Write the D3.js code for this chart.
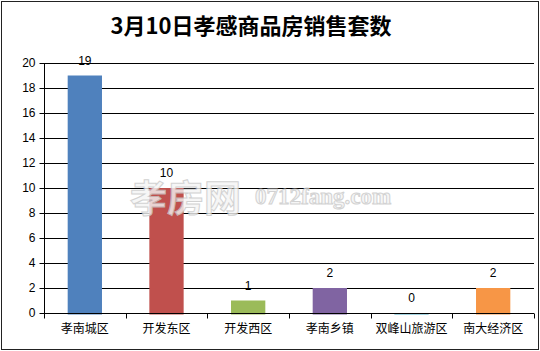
<!DOCTYPE html>
<html>
<head>
<meta charset="utf-8">
<script src="https://cdn.jsdelivr.net/npm/d3@7"></script>
<style>
  body { margin: 0; background: #fff; }
  svg { display: block; }
</style>
</head>
<body>
<script>
const title = "3月10日孝感商品房销售套数";
const categories = ["孝南城区", "开发东区", "开发西区", "孝南乡镇", "双峰山旅游区", "南大经济区"];
const values = [19, 10, 1, 2, 0, 2];
const colors = ["#4F81BD", "#C0504D", "#9BBB59", "#8064A2", "#4BACC6", "#F79646"];
const yTicks = [0, 2, 4, 6, 8, 10, 12, 14, 16, 18, 20];

const width = 540;
const height = 351;
const margin = { top: 63, right: 6, bottom: 38, left: 44 };
const innerW = width - margin.left - margin.right;
const innerH = height - margin.top - margin.bottom;

const font = "'Liberation Sans', 'Noto Sans CJK SC', sans-serif";

const svg = d3.select("body").append("svg")
  .attr("width", width)
  .attr("height", height);

// outer frame
svg.append("rect")
  .attr("x", 1.5).attr("y", 1.5)
  .attr("width", width - 3).attr("height", height - 3)
  .attr("fill", "#fff")
  .attr("stroke", "#222")
  .attr("stroke-width", 1);

svg.append("text")
  .attr("x", 251).attr("y", 34)
  .attr("text-anchor", "middle")
  .attr("font-family", "'Noto Sans CJK SC', sans-serif")
  .attr("font-weight", "bold")
  .attr("font-size", 22)
  .attr("fill", "#000")
  .text(title);

const g = svg.append("g")
  .attr("transform", `translate(${margin.left},${margin.top})`);

const xScale = d3.scaleBand().domain(categories).range([0, innerW]).paddingInner(0.58).paddingOuter(0.29);
const xBand = d3.scaleBand().domain(categories).range([0, innerW]);
const yScale = d3.scaleLinear().domain([0, 20]).range([innerH, 0]);

// gridlines
g.append("g")
  .selectAll("line")
  .data(yTicks.filter((d) => d > 0))
  .join("line")
  .attr("x1", 0).attr("x2", innerW)
  .attr("y1", (d) => Math.round(yScale(d)) + 0.5)
  .attr("y2", (d) => Math.round(yScale(d)) + 0.5)
  .attr("stroke", "#000")
  .attr("stroke-width", 1);

// bars
g.append("g")
  .selectAll("rect")
  .data(values)
  .join("rect")
  .attr("x", (d, i) => xScale(categories[i]))
  .attr("width", xScale.bandwidth())
  .attr("y", (d) => yScale(d))
  .attr("height", (d) => yScale(0) - yScale(d) + 1.5)
  .attr("fill", (d, i) => colors[i]);

// value labels
g.append("g")
  .selectAll("text")
  .data(values)
  .join("text")
  .attr("x", (d, i) => xScale(categories[i]) + xScale.bandwidth() / 2)
  .attr("y", (d) => yScale(d) - 11)
  .attr("text-anchor", "middle")
  .attr("font-family", font)
  .attr("font-size", 12)
  .attr("fill", "#000")
  .text((d) => d);

// y axis
const yAxis = d3.axisLeft(yScale).tickValues(yTicks).tickSize(5).tickPadding(4);
const gy = g.append("g").attr("transform", "translate(0.5,0)").call(yAxis);
gy.select(".domain").attr("stroke", "#000").attr("d", `M0,${innerH}V0`);
gy.selectAll(".tick line").attr("stroke", "#000");
gy.selectAll(".tick text").attr("font-family", font).attr("font-size", 12).attr("fill", "#000");

// x axis with ticks at band boundaries
const gx = g.append("g").attr("transform", `translate(0,${innerH + 0.5})`);
gx.append("line")
  .attr("x1", 0).attr("x2", innerW)
  .attr("stroke", "#000");
gx.selectAll("line.tk")
  .data(d3.range(categories.length + 1))
  .join("line")
  .attr("class", "tk")
  .attr("x1", (i) => Math.round(i * xBand.step()) + 0.5)
  .attr("x2", (i) => Math.round(i * xBand.step()) + 0.5)
  .attr("y1", 0).attr("y2", 5)
  .attr("stroke", "#000");
gx.selectAll("text")
  .data(categories)
  .join("text")
  .attr("x", (d) => xBand(d) + xBand.bandwidth() / 2)
  .attr("y", 19)
  .attr("text-anchor", "middle")
  .attr("font-family", "'Noto Sans CJK SC', sans-serif")
  .attr("font-size", 12)
  .attr("fill", "#000")
  .text((d) => d);

// site watermark, drawn over the chart like in the source image
const wm = svg.append("g").attr("opacity", 0.8);
wm.append("text")
  .attr("x", 130).attr("y", 212)
  .attr("font-family", "'Noto Sans CJK SC', sans-serif")
  .attr("font-weight", "bold")
  .attr("font-size", 37)
  .attr("fill", "#f4f4f4")
  .attr("stroke", "#c8c8c8")
  .attr("stroke-width", 1)
  .text("孝房网");
wm.append("text")
  .attr("x", 255).attr("y", 204)
  .attr("font-family", "'Liberation Serif', serif")
  .attr("font-weight", "bold")
  .attr("font-size", 23)
  .attr("fill", "#f4f4f4")
  .attr("stroke", "#c8c8c8")
  .attr("stroke-width", 1)
  .text("0712fang.com");
</script>
</body>
</html>
